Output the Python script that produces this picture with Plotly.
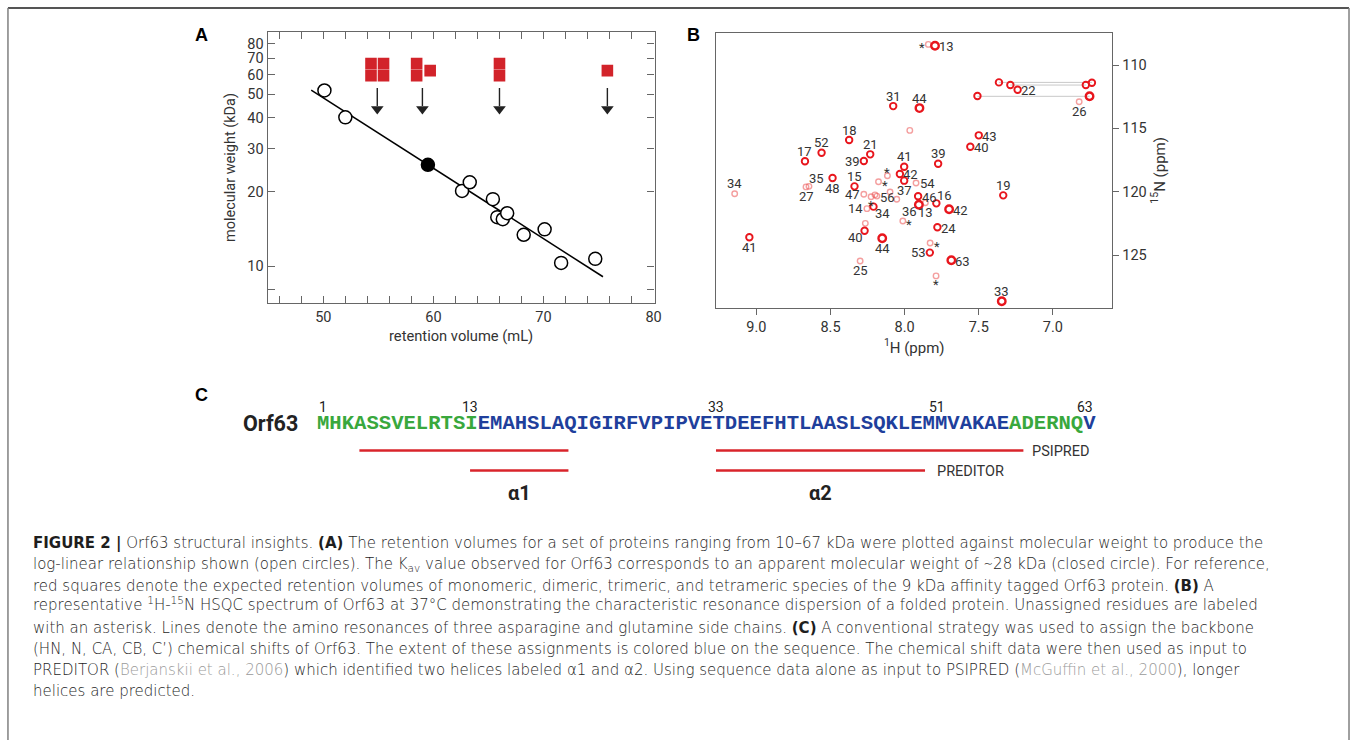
import plotly.graph_objects as go

W, H = 1357, 740

# ---------------- Panel A data ----------------
std_volume = [50.1, 52.0, 62.6, 63.3, 65.4, 65.8, 66.3, 66.7, 68.2, 70.1, 71.6, 74.7]
std_mw = [51.7, 40.2, 20.2, 21.9, 18.7, 15.8, 15.5, 16.4, 13.4, 14.1, 10.3, 10.7]
orf63_volume = [59.5]
orf63_mw = [25.8]
fit_volume = [48.9, 75.4]
fit_mw = [51.9, 9.05]
oligomer_n = [4, 3, 2, 1]
oligomer_volume = [54.9, 59.0, 66.0, 75.8]
A_ytick_vals = [8, 10, 20, 30, 40, 50, 60, 70, 80]
A_ytick_text = ["", "10", "20", "30", "40", "50", "60", "70", "80"]
A_xtick_vals = [46, 48, 50, 52, 54, 56, 58, 60, 62, 64, 66, 68, 70, 72, 74, 76, 78, 80]
A_xtick_text = ["", "", "50", "", "", "", "", "60", "", "", "", "", "70", "", "", "", "", "80"]

# ---------------- Panel B data ----------------
peak_H = [7.795, 7.840, 8.077, 7.900, 7.965, 8.374, 8.560, 8.672, 8.232, 8.275,
          8.003, 7.774, 7.500, 7.557, 8.116, 8.032, 8.003, 7.923, 8.176, 8.645,
          8.665, 8.486, 8.338, 9.146, 8.275, 8.226, 8.187, 8.200, 8.098, 8.053,
          8.254, 8.210, 7.909, 7.904, 7.860, 7.786, 7.700, 8.012, 7.779, 8.270,
          8.265, 8.151, 9.047, 7.828, 7.830, 7.685, 8.300, 7.788, 7.345, 7.335,
          7.364, 7.287, 7.238, 6.778, 6.737, 6.753, 7.509, 6.823]
peak_N = [108.48, 108.37, 113.24, 113.40, 115.16, 115.92, 116.92, 117.60, 117.05, 117.58,
          118.03, 117.79, 115.55, 116.45, 118.74, 118.60, 119.13, 119.31, 119.21, 119.58,
          119.62, 118.92, 119.58, 120.16, 120.20, 120.40, 120.35, 120.25, 120.02, 120.60,
          121.34, 121.18, 120.36, 121.03, 120.87, 120.92, 121.39, 122.31, 122.81, 123.08,
          122.50, 123.68, 123.60, 124.05, 124.81, 125.41, 125.47, 126.65, 128.65, 120.29,
          111.37, 111.58, 111.95, 111.58, 111.40, 112.47, 112.45, 112.90]
peak_label = ["13", "*", "31", "44", "", "18", "52", "17", "21", "39",
              "41", "39", "43", "40", "*", "42", "37", "54", "*", "35",
              "27", "48", "15", "34", "47", "*", "56", "", "", "",
              "14", "34", "46", "36", "13", "16", "42", "*", "24", "40",
              "", "44", "41", "*", "53", "63", "25", "*", "33", "19",
              "", "", "22", "", "", "", "", "26"]
peak_level = [2, 0, 1, 2, 0, 1, 1, 1, 1, 1,
              1, 1, 1, 1, 0, 1, 1, 0, 0, 0,
              0, 1, 1, 0, 0, 0, 0, 0, 0, 0,
              0, 1, 1, 2, 0, 1, 2, 0, 1, 1,
              0, 2, 1, 0, 1, 2, 0, 0, 2, 1,
              1, 1, 1, 1, 1, 2, 1, 0]
label_side = ["r", "l", "t", "t", "", "t", "t", "t", "t", "l",
              "t", "t", "r", "r", "t", "r", "b", "r", "r", "tr",
              "b", "b", "t", "t", "l", "b", "r", "", "", "",
              "l", "br", "r", "bl", "b", "tr", "r", "r", "r", "bl",
              "", "b", "b", "r", "l", "r", "b", "b", "t", "t",
              "", "", "r", "", "", "", "", "b"]
sidechain_N = [111.37, 111.58, 112.47]
sidechain_H1 = [7.364, 7.287, 7.509]
sidechain_H2 = [6.737, 6.778, 6.753]
B_xtick_vals = [9.0, 8.5, 8.0, 7.5, 7.0]
B_xtick_text = ["9.0", "8.5", "8.0", "7.5", "7.0"]
B_ytick_vals = [110, 115, 120, 125]

# ---------------- Panel C data ----------------
sequence = "MHKASSVELRTSIEMAHSLAQIGIRFVPIPVETDEEFHTLAASLSQKLEMMVAKAEADERNQV"
assigned_ranges = [(14, 56), (63, 63)]
numbered_residues = [1, 13, 33, 51, 63]
psipred_helices = [(4, 21), (33, 58)]
preditor_helices = [(13, 21), (33, 50)]
helix_names = ["α1", "α2"]

caption_lines = [
    "<b>FIGURE 2 |</b> Orf63 structural insights. <b>(A)</b> The retention volumes for a set of proteins ranging from 10–67 kDa were plotted against molecular weight to produce the",
    "log-linear relationship shown (open circles). The K<sub>av</sub> value observed for Orf63 corresponds to an apparent molecular weight of ∼28 kDa (closed circle). For reference,",
    "red squares denote the expected retention volumes of monomeric, dimeric, trimeric, and tetrameric species of the 9 kDa affinity tagged Orf63 protein. <b>(B)</b> A",
    "representative <sup>1</sup>H-<sup>15</sup>N HSQC spectrum of Orf63 at 37°C demonstrating the characteristic resonance dispersion of a folded protein. Unassigned residues are labeled",
    "with an asterisk. Lines denote the amino resonances of three asparagine and glutamine side chains. <b>(C)</b> A conventional strategy was used to assign the backbone",
    "(HN, N, CA, CB, C’) chemical shifts of Orf63. The extent of these assignments is colored blue on the sequence. The chemical shift data were then used as input to",
    "PREDITOR (<span style='color:#9a9a9a'>Berjanskii et al., 2006</span>) which identified two helices labeled α1 and α2. Using sequence data alone as input to PSIPRED (<span style='color:#9a9a9a'>McGuffin et al., 2000</span>), longer",
    "helices are predicted.",
]

# ---------------- helpers ----------------
def fx(p):
    return p / W


def fy(p):
    return 1 - p / H


A_box = (269, 658, 32, 303)      # left, right, top, bottom (px)
B_box = (720, 1118, 33, 307.7)
A_xrange = [44.94, 80.09]
px_per_ml = (A_box[1] - A_box[0]) / (A_xrange[1] - A_xrange[0])

TXT = "#333333"
FONT = "Roboto, Arial, sans-serif"


def label(xp, yp, text, size, color=TXT, family=FONT, xanchor="center", weight=None, **kw):
    font = dict(family=family, size=size, color=color)
    if weight is not None:
        font["weight"] = weight
    d = dict(x=fx(xp), y=fy(yp), xref="paper", yref="paper", text=text, showarrow=False,
             xanchor=xanchor, yanchor="middle", font=font)
    d.update(kw)
    return d


fig = go.Figure()

# ---------- Panel A traces ----------
fig.add_trace(go.Scatter(x=fit_volume, y=fit_mw, mode="lines",
                         line=dict(color="black", width=1.5),
                         xaxis="x", yaxis="y", showlegend=False, hoverinfo="skip"))
fig.add_trace(go.Scatter(x=std_volume, y=std_mw, mode="markers",
                         marker=dict(symbol="circle", size=13, color="white",
                                     line=dict(color="black", width=1.5)),
                         xaxis="x", yaxis="y", showlegend=False))
fig.add_trace(go.Scatter(x=orf63_volume, y=orf63_mw, mode="markers",
                         marker=dict(symbol="circle", size=13, color="black",
                                     line=dict(color="black", width=1.5)),
                         xaxis="x", yaxis="y", showlegend=False))

# oligomer squares (glyph layout in pixels below plot top, on overlay axis y3)
row_px = {"top": 31.6, "bot": 43.6, "mid": 38.6}


def oligomer_cells(n):
    if n == 4:
        return [(-6.3, "top"), (6.3, "top"), (-6.3, "bot"), (6.3, "bot")]
    if n == 3:
        return [(-5.8, "top"), (-5.8, "bot"), (7.8, "mid")]
    if n == 2:
        return [(0, "top"), (0, "bot")]
    return [(0, "mid")]


sq_x, sq_y = [], []
arr_x, arr_y, head_x, head_y = [], [], [], []
for n, v in zip(oligomer_n, oligomer_volume):
    for dx, row in oligomer_cells(n):
        sq_x.append(v + dx / px_per_ml)
        sq_y.append(row_px[row])
    arr_x += [v, v, None]
    arr_y += [56, 74, None]
    head_x.append(v)
    head_y.append(77)

fig.add_trace(go.Scatter(x=sq_x, y=sq_y, mode="markers",
                         marker=dict(symbol="square", size=11.6, color="#d2232a", line=dict(width=0)),
                         xaxis="x", yaxis="y3", showlegend=False, hoverinfo="skip"))
fig.add_trace(go.Scatter(x=arr_x, y=arr_y, mode="lines",
                         line=dict(color="#222222", width=1.4),
                         xaxis="x", yaxis="y3", showlegend=False, hoverinfo="skip"))
fig.add_trace(go.Scatter(x=head_x, y=head_y, mode="markers",
                         marker=dict(symbol="triangle-down", size=11, color="#222222", line=dict(width=0)),
                         xaxis="x", yaxis="y3", showlegend=False, hoverinfo="skip"))

# ---------- Panel B traces ----------
sc_x, sc_y = [], []
for n, h1, h2 in zip(sidechain_N, sidechain_H1, sidechain_H2):
    sc_x += [h1, h2, None]
    sc_y += [n, n, None]
fig.add_trace(go.Scatter(x=sc_x, y=sc_y, mode="lines",
                         line=dict(color="#c8c8c8", width=1),
                         xaxis="x2", yaxis="y2", showlegend=False, hoverinfo="skip"))

level_style = {
    0: dict(color="rgba(235,80,80,0.55)", size=5.5, width=1.4),
    1: dict(color="#e8161d", size=6.5, width=1.9),
    2: dict(color="#e8161d", size=7.5, width=2.4),
}
for lvl, st in level_style.items():
    xs = [h for h, l in zip(peak_H, peak_level) if l == lvl]
    ys = [n for n, l in zip(peak_N, peak_level) if l == lvl]
    fig.add_trace(go.Scatter(x=xs, y=ys, mode="markers",
                             marker=dict(symbol="circle-open", size=st["size"], color=st["color"],
                                         line=dict(width=st["width"], color=st["color"])),
                             xaxis="x2", yaxis="y2", showlegend=False))

side_shift = {"t": (0, 10), "b": (0, -10), "l": (-11, 0), "r": (11, -1),
              "tr": (8, 8), "br": (9, -7), "bl": (-9, -7), "tl": (-9, 8), "": (0, 0)}
annotations = []
for h, n, lab, side in zip(peak_H, peak_N, peak_label, label_side):
    if not lab:
        continue
    dx, dy = side_shift[side]
    if lab == "*":
        dx, dy = dx * 0.6, dy * 0.6 - 3
    annotations.append(dict(x=h, y=n, xref="x2", yref="y2", text=lab, showarrow=False,
                            xanchor="center", yanchor="middle",
                            xshift=dx, yshift=dy, font=dict(family=FONT, size=13, color=TXT)))

# ---------- Panel letters ----------
for letter, (lx, ly) in {"A": (203, 35), "B": (697, 35), "C": (203, 395)}.items():
    annotations.append(label(lx, ly, f"<b>{letter}</b>", 18, color="black", family="Liberation Sans, Arial"))

# ---------- Panel C ----------
seq_font = 20.6
char_w = 0.6 * seq_font
seq_x0 = 318
seq_y = 423


def res_x(r):
    return seq_x0 + (r - 0.5) * char_w


def is_assigned(r):
    return any(a <= r <= b for a, b in assigned_ranges)


runs = []
for i, aa in enumerate(sequence, start=1):
    col = "#1f3f9c" if is_assigned(i) else "#39a83d"
    if runs and runs[-1][0] == col:
        runs[-1][1] += aa
    else:
        runs.append([col, aa])
seq_html = "".join(f"<span style='color:{c}'>{s}</span>" for c, s in runs)
annotations.append(label(seq_x0, seq_y, f"<b>{seq_html}</b>", seq_font,
                         family="Liberation Mono, monospace", xanchor="left", borderpad=0))
annotations.append(label(271.5, seq_y, "<b>Orf63</b>", 21.5, color="#222222"))
for r in numbered_residues:
    annotations.append(label(res_x(r), 407, str(r), 14, color="#222222"))

shapes = []
helix_color = "#d9242b"
for (a, b) in psipred_helices:
    shapes.append(dict(type="line", xref="paper", yref="paper", x0=fx(res_x(a)), x1=fx(res_x(b)),
                       y0=fy(450.5), y1=fy(450.5), line=dict(color=helix_color, width=2.5)))
for (a, b), name in zip(preditor_helices, helix_names):
    shapes.append(dict(type="line", xref="paper", yref="paper", x0=fx(res_x(a)), x1=fx(res_x(b)),
                       y0=fy(470.5), y1=fy(470.5), line=dict(color=helix_color, width=2.5)))
    annotations.append(label((res_x(a) + res_x(b)) / 2, 493, f"<b>{name}</b>", 20, color="#222222"))
annotations.append(label(res_x(psipred_helices[-1][1]) + 7, 451, "PSIPRED", 14.5, xanchor="left"))
annotations.append(label(res_x(preditor_helices[-1][1]) + 10, 471, "PREDITOR", 14.5, xanchor="left"))

# ---------- Caption ----------
for i, line in enumerate(caption_lines):
    shift = 2.5 if "<sup>" in line else 0
    annotations.append(label(31, 543.3 + i * 21.1, line, 15.0, color="#1e1e1e",
                             family="DejaVu Sans, Liberation Sans, Arial, sans-serif",
                             xanchor="left", align="left", yshift=shift, weight=300))

# ---------- border ----------
for x0, y0, x1, y1, col, wd in [(8, 8, 1356, 8, "#555555", 2),
                                (8, 8, 8, 760, "#808080", 1.5),
                                (1356, 8, 1356, 760, "#808080", 1.5)]:
    shapes.append(dict(type="line", xref="paper", yref="paper", x0=fx(x0), x1=fx(x1),
                       y0=fy(y0), y1=fy(y1), line=dict(color=col, width=wd)))

axis_common = dict(showgrid=False, zeroline=False, showline=True, linecolor="#666666", linewidth=1.3)

fig.update_layout(
    width=W, height=H, autosize=False, margin=dict(l=0, r=0, t=0, b=0),
    paper_bgcolor="white", plot_bgcolor="white", showlegend=False,
    xaxis=dict(domain=[fx(A_box[0]), fx(A_box[1])], range=A_xrange, anchor="y",
               tickvals=A_xtick_vals, ticktext=A_xtick_text, ticks="inside", ticklen=7, tickwidth=1.2,
               tickcolor="#666666", mirror="ticks",
               tickfont=dict(family=FONT, size=14.5, color=TXT),
               title=dict(text="retention volume (mL)", font=dict(family=FONT, size=14.7, color=TXT), standoff=6),
               **axis_common),
    yaxis=dict(domain=[fy(A_box[3]), fy(A_box[2])], type="log", range=[0.85, 1.951], anchor="x",
               tickvals=A_ytick_vals, ticktext=A_ytick_text, ticks="inside", ticklen=7, tickwidth=1.2,
               tickcolor="#666666", mirror="ticks",
               tickfont=dict(family=FONT, size=14.5, color=TXT),
               title=dict(text="molecular weight (kDa)", font=dict(family=FONT, size=14.5, color=TXT), standoff=8),
               **axis_common),
    yaxis3=dict(overlaying="y", anchor="x", range=[A_box[3] - A_box[2], 0], visible=False,
                showgrid=False, zeroline=False),
    xaxis2=dict(domain=[fx(B_box[0]), fx(B_box[1])], range=[9.27, 6.6], anchor="y2",
                tickvals=B_xtick_vals, ticktext=B_xtick_text, ticks="outside", ticklen=6, tickwidth=1.2,
                tickcolor="#666666", mirror=True,
                tickfont=dict(family=FONT, size=14.5, color=TXT),
                title=dict(text="<sup>1</sup>H (ppm)", font=dict(family=FONT, size=15, color=TXT), standoff=4),
                **axis_common),
    yaxis2=dict(domain=[fy(B_box[3]), fy(B_box[2])], range=[129.16, 107.47], anchor="x2", side="right",
                tickvals=B_ytick_vals, ticks="outside", ticklen=6, tickwidth=1.2,
                tickcolor="#666666", mirror=True,
                tickfont=dict(family=FONT, size=14.5, color=TXT),
                title=dict(text="<sup>15</sup>N (ppm)", font=dict(family=FONT, size=15, color=TXT), standoff=8),
                **axis_common),
    annotations=annotations,
    shapes=shapes,
)

fig.write_html("out.html", config={"displayModeBar": False, "responsive": False},
               post_script="document.body.style.margin='0px';document.body.style.overflow='hidden';")
